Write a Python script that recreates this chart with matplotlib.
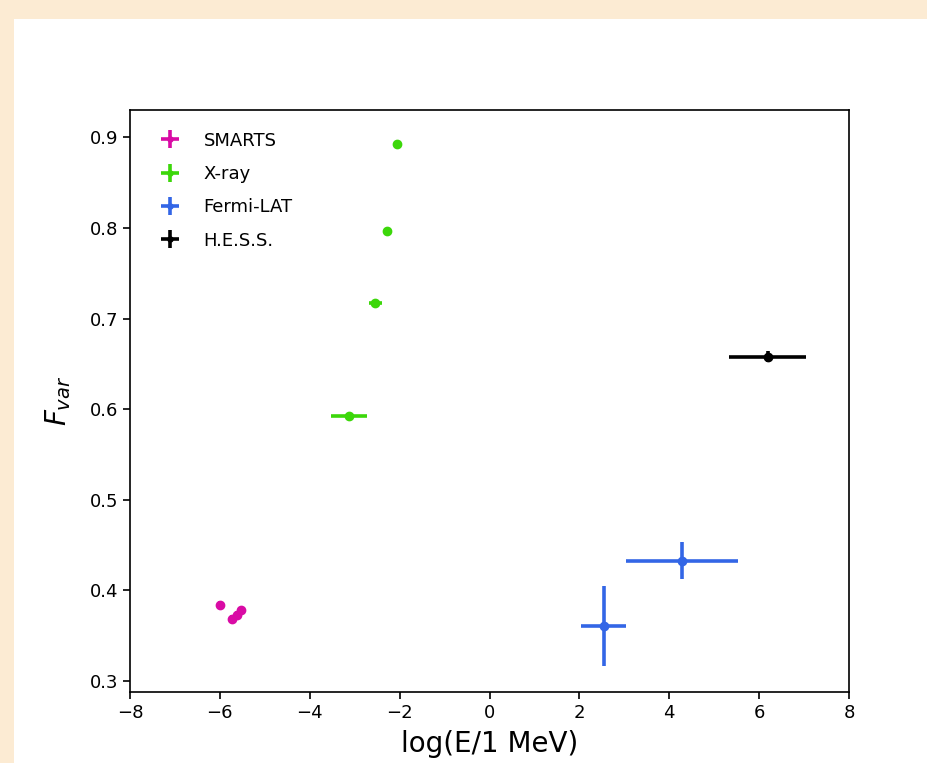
import matplotlib
matplotlib.use('Agg')
import matplotlib.pyplot as plt
from matplotlib.patches import Rectangle

# SMARTS optical/NIR
smarts_x = [-6.00, -5.72, -5.61, -5.52]
smarts_y = [0.384, 0.369, 0.373, 0.378]
smarts_xerr = [0.0, 0.0, 0.0, 0.0]
smarts_yerr = [0.004, 0.004, 0.004, 0.004]

# X-ray
xray_x = [-3.12, -2.54, -2.27, -2.05]
xray_y = [0.592, 0.717, 0.796, 0.893]
xray_xerr = [0.40, 0.15, 0.05, 0.05]
xray_yerr = [0.003, 0.003, 0.003, 0.003]

# Fermi-LAT
fermi_x = [2.54, 4.29]
fermi_y = [0.361, 0.433]
fermi_xerr = [0.50, 1.25]
fermi_yerr = [0.044, 0.020]

# H.E.S.S.
hess_x = [6.19]
hess_y = [0.658]
hess_xerr = [0.86]
hess_yerr = [0.006]

fig = plt.figure(figsize=(9.27, 7.63), dpi=100, facecolor='#FCEBD3')
# white card on top of the peach page background
fig.patches.append(Rectangle((14/927, 0), 1, 1 - 19/763, transform=fig.transFigure,
                             facecolor='white', edgecolor='none', zorder=-1))

ax = fig.add_axes([130/927, 71/763, 719/927, 582/763])

kw = dict(fmt='o', markersize=6, elinewidth=2.6, capsize=0)
ax.errorbar(smarts_x, smarts_y, xerr=smarts_xerr, yerr=smarts_yerr, color='#D90BA5', label='SMARTS', **kw)
ax.errorbar(xray_x, xray_y, xerr=xray_xerr, yerr=xray_yerr, color='#3CD70A', label='X-ray', **kw)
ax.errorbar(fermi_x, fermi_y, xerr=fermi_xerr, yerr=fermi_yerr, color='#3366E6', label='Fermi-LAT', **kw)
ax.errorbar(hess_x, hess_y, xerr=hess_xerr, yerr=hess_yerr, color='black', label='H.E.S.S.', **kw)

ax.set_xlim(-8, 8)
ax.set_ylim(0.288, 0.930)
ax.set_xticks([-8, -6, -4, -2, 0, 2, 4, 6, 8])
ax.set_yticks([0.3, 0.4, 0.5, 0.6, 0.7, 0.8, 0.9])
ax.tick_params(labelsize=13, length=5, width=1.2)
for s in ax.spines.values():
    s.set_linewidth(1.2)

ax.set_xlabel('log(E/1 MeV)', fontsize=20, labelpad=6)
ax.set_ylabel('$F_{var}$', fontsize=20, labelpad=12)

ax.legend(loc='upper left', frameon=False, fontsize=13, handletextpad=1.3,
          handlelength=1.1, labelspacing=0.85, borderaxespad=0.6,
          markerscale=0.6, bbox_to_anchor=(0.017, 0.994))

fig.savefig('out.png', dpi=100, facecolor=fig.get_facecolor())
